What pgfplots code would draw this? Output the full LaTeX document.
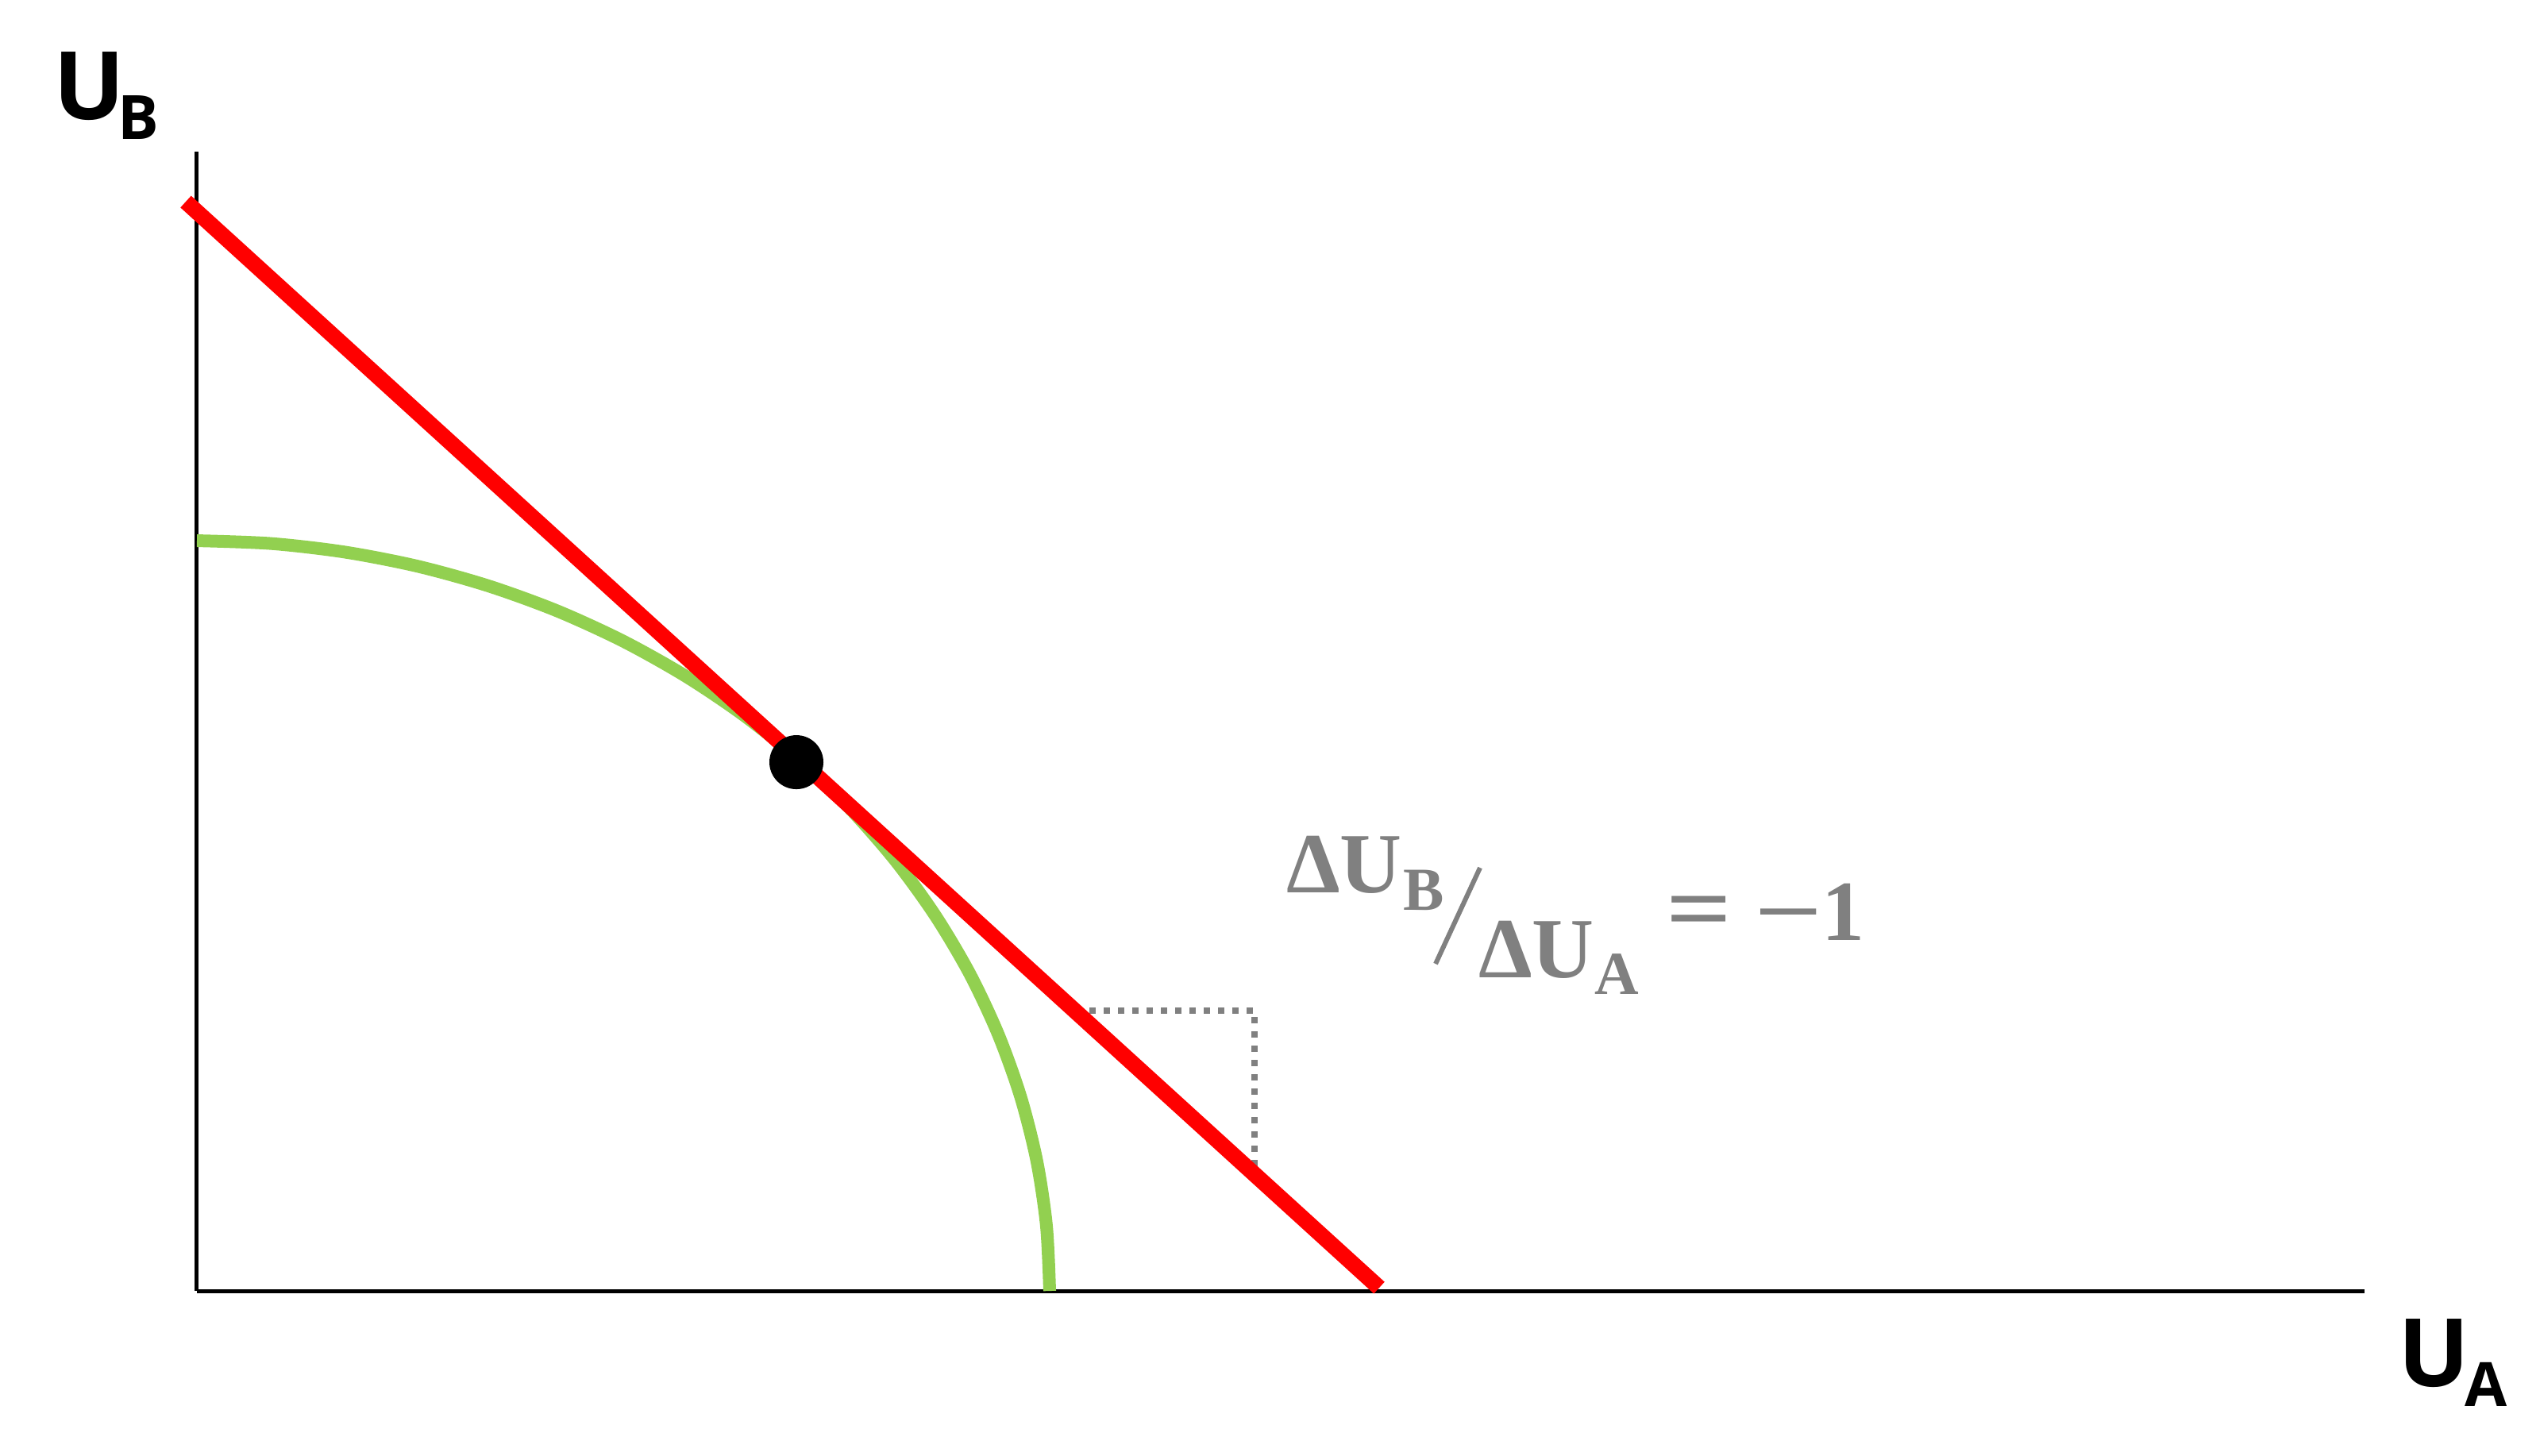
\documentclass[border=0pt]{standalone}
\usepackage{fontspec}
\usepackage{pgfplots}
\pgfplotsset{compat=1.18}
\newfontfamily\labfont{Open Sans}
\newfontfamily\formfont{Liberation Serif}
\definecolor{pgreen}{RGB}{146,208,80}
\definecolor{pgray}{RGB}{128,128,128}
\begin{document}
\begin{tikzpicture}
\begin{axis}[
  scale only axis, width=273pt, height=143.5pt,
  xmin=0, xmax=27.30, ymin=0, ymax=14.35,
  axis lines=left, axis line style={-, line width=0.5pt, black},
  ticks=none, clip=false,
]
% utility possibility frontier
\addplot[pgreen, line width=1.6pt, smooth] coordinates {
(0,9.45) (0.936,9.414) (1.865,9.306) (2.780,9.128) (3.673,8.880) (4.539,8.565)
(5.370,8.184) (6.160,7.741) (6.904,7.239) (7.594,6.682) (8.227,6.074)
(8.798,5.420) (9.301,4.725) (9.734,3.994) (10.092,3.232) (10.374,2.446)
(10.577,1.641) (10.699,0.824) (10.74,0)
};
% dotted slope triangle
\addplot[pgray, line width=0.8pt, dash pattern=on 0.8pt off 1pt] coordinates {
(11.06,3.53) (13.32,3.53) (13.32,1.47)
};
% budget line
\addplot[red, line width=2pt] coordinates {(-0.14,13.72) (14.89,0.04)};
% tangency point
\addplot[only marks, mark=*, mark size=3.2pt, black] coordinates {(7.55,6.66)};

% axis labels
\node[anchor=base west, inner sep=0pt, font=\labfont\bfseries\fontsize{11.9pt}{12pt}\selectfont] at (axis cs:-1.82,14.76) {U};
\node[anchor=base west, inner sep=0pt, font=\labfont\bfseries\fontsize{7.7pt}{8pt}\selectfont] at (axis cs:-1.01,14.51) {B};
\node[anchor=base west, inner sep=0pt, font=\labfont\bfseries\fontsize{11.9pt}{12pt}\selectfont] at (axis cs:27.70,-1.20) {U};
\node[anchor=base west, inner sep=0pt, font=\labfont\bfseries\fontsize{7.7pt}{8pt}\selectfont] at (axis cs:28.54,-1.45) {A};

% slope annotation
\node[anchor=base west, inner sep=0pt, text=pgray, font=\formfont\bfseries\fontsize{10.8pt}{11pt}\selectfont] at (axis cs:13.70,5.02) {ΔU};
\node[anchor=base west, inner sep=0pt, text=pgray, font=\formfont\bfseries\fontsize{7.7pt}{8pt}\selectfont] at (axis cs:15.17,4.80) {B};
\addplot[pgray, line width=0.6pt] coordinates {(15.60,4.12) (16.16,5.33)};
\node[anchor=base west, inner sep=0pt, text=pgray, font=\formfont\bfseries\fontsize{10.8pt}{11pt}\selectfont] at (axis cs:16.12,3.95) {ΔU};
\node[anchor=base west, inner sep=0pt, text=pgray, font=\formfont\bfseries\fontsize{7.7pt}{8pt}\selectfont] at (axis cs:17.58,3.74) {A};
\node[anchor=base west, inner sep=0pt, text=pgray, font=\formfont\bfseries\fontsize{10.8pt}{11pt}\selectfont] at (axis cs:18.48,4.42) {\scalebox{1.35}[1.1]{=}};
\node[anchor=base west, inner sep=0pt, text=pgray, font=\formfont\bfseries\fontsize{10.8pt}{11pt}\selectfont] at (axis cs:19.59,4.42) {\scalebox{1.4}[1]{−}};
\node[anchor=base west, inner sep=0pt, text=pgray, font=\formfont\bfseries\fontsize{10.8pt}{11pt}\selectfont] at (axis cs:20.44,4.42) {1};

\coordinate (bl) at (axis cs:-2.48,-2.07);
\coordinate (tr) at (axis cs:29.51,16.26);
\end{axis}
\pgfresetboundingbox
\path[use as bounding box] (bl) rectangle (tr);
\end{tikzpicture}
\end{document}
